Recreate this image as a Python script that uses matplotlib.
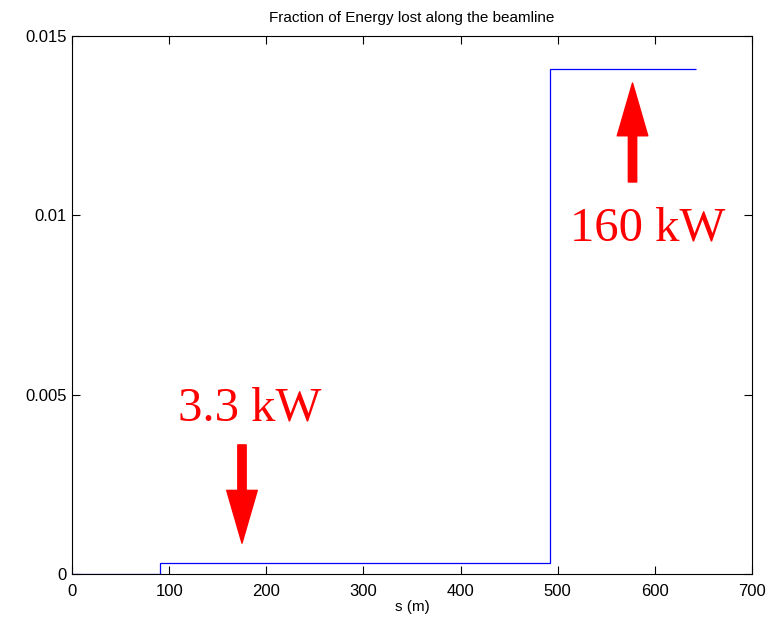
import matplotlib.pyplot as plt

# beamline segment boundaries (m) and fraction of energy lost in each
s_edges = [0, 90.5, 492, 642]
frac_lost = [0, 0.0003, 0.01408]

# annotations: label, position, arrow tail, arrow tip
labels = ["3.3 kW", "160 kW"]
label_pos = [(109, 0.00429), (513, 0.00929)]
arrow_tail = [(175, 0.0036), (577, 0.01093)]
arrow_tip = [(175, 0.00086), (577, 0.01369)]

plt.rcParams['font.family'] = ['Liberation Sans', 'DejaVu Sans']

fig = plt.figure(figsize=(7.74, 6.19), dpi=100)
ax = fig.add_axes([0.093, 0.0727, 0.8786, 0.8691])

ax.stairs(frac_lost, s_edges, baseline=None, color='blue', linewidth=0.9)

for lab, pos, tail, tip in zip(labels, label_pos, arrow_tail, arrow_tip):
    ax.annotate('', xy=tip, xytext=tail,
                arrowprops=dict(arrowstyle='simple,head_length=1.9,head_width=1.1,tail_width=0.3',
                                color='red', mutation_scale=20, shrinkA=0, shrinkB=0))
    ax.text(pos[0], pos[1], lab, color='red', fontsize=35, family='Liberation Serif',
            ha='left', va='baseline')

ax.set_xlim(0, 700)
ax.set_ylim(0, 0.015)
ax.set_xticks(range(0, 701, 100))
ax.set_yticks([0, 0.005, 0.01, 0.015])
ax.set_yticklabels(['0', '0.005', '0.01', '0.015'])
ax.tick_params(direction='in', top=True, right=True, labelsize=12, length=6)
ax.tick_params(axis='x', pad=7)
ax.set_xlabel('s (m)', fontsize=11, labelpad=1)
ax.set_title('Fraction of Energy lost along the beamline', fontsize=11, pad=10)

fig.savefig('out.png', dpi=100)
